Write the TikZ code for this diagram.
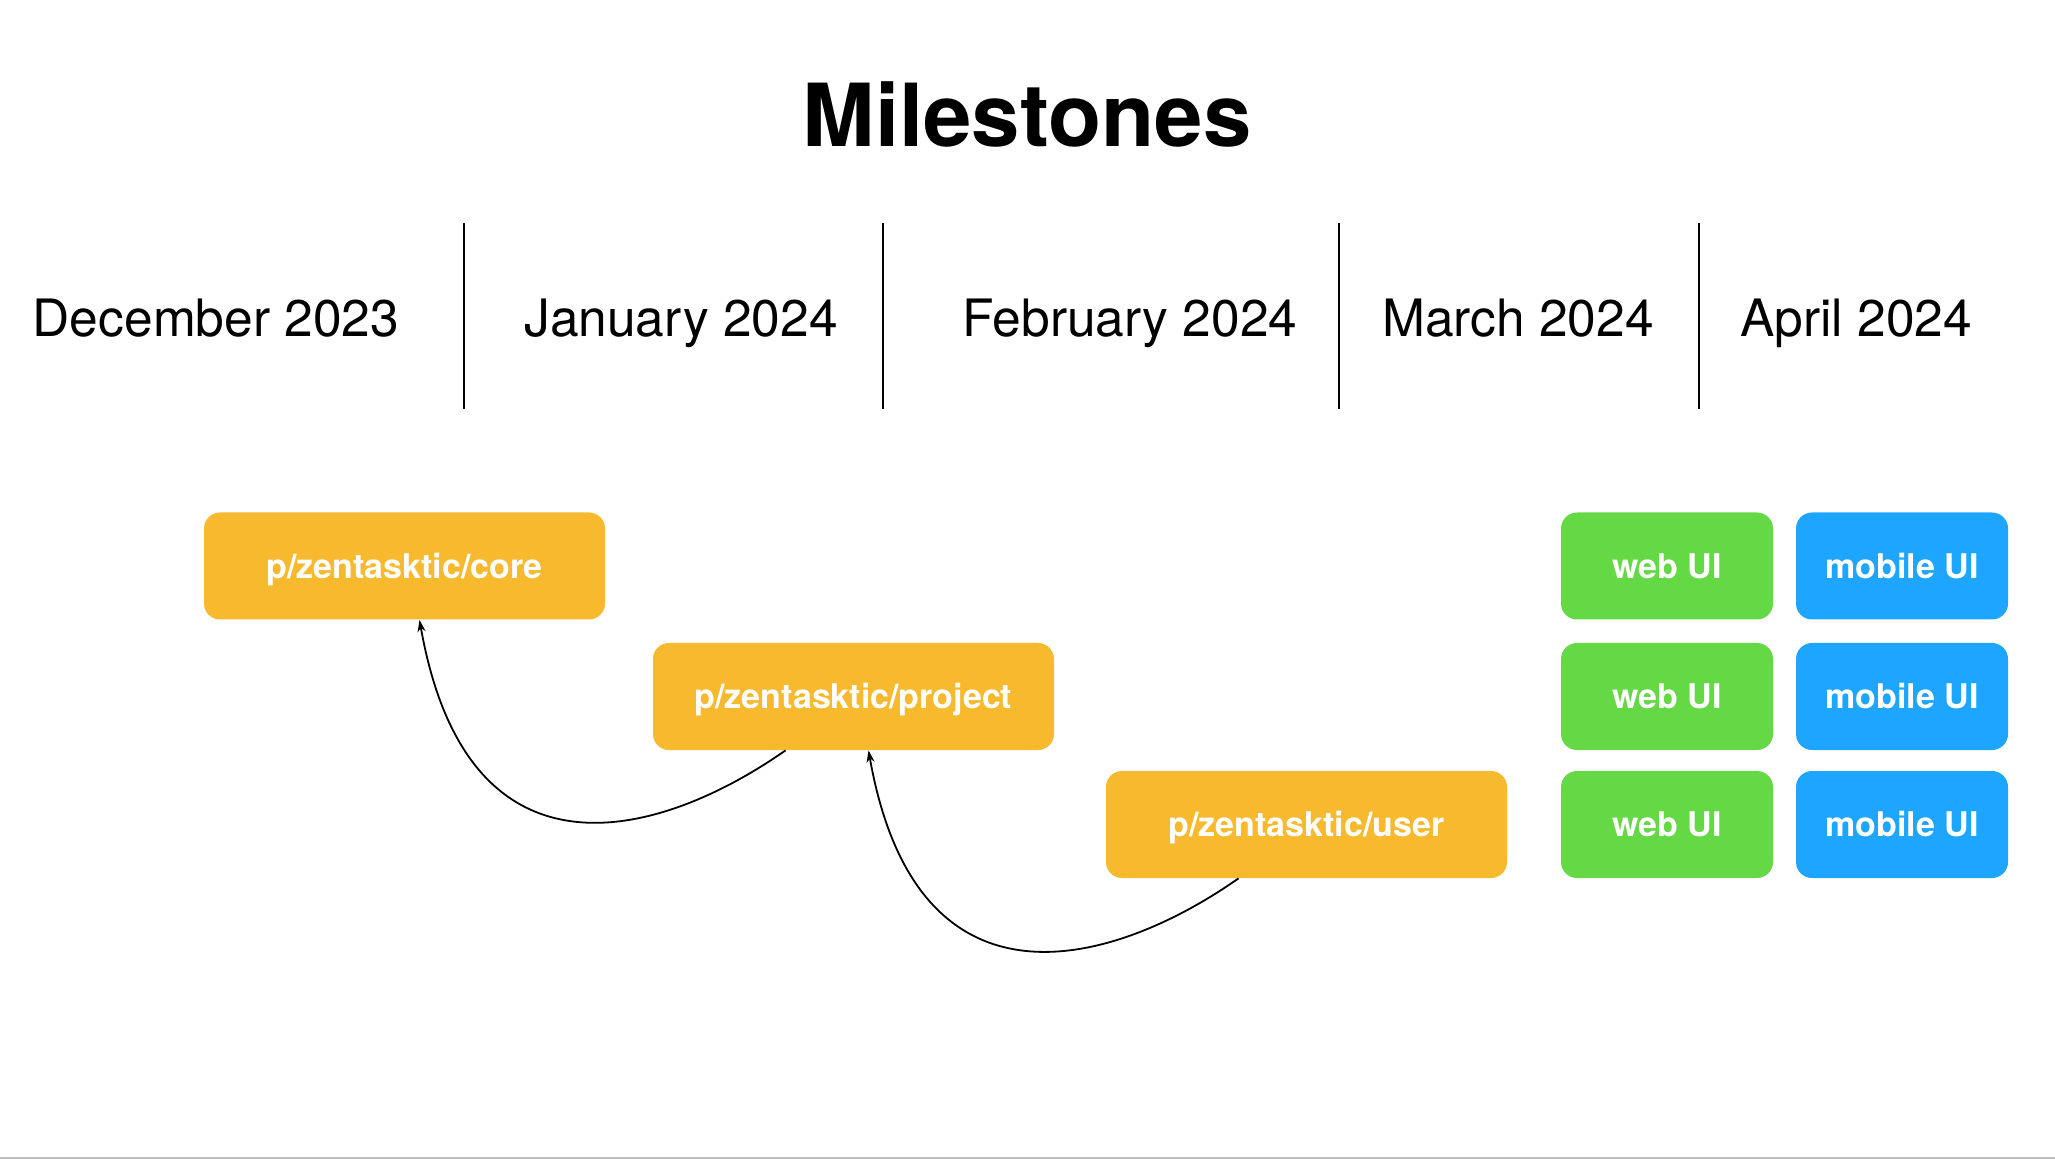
\documentclass[tikz,border=0pt]{standalone}
\usepackage{fontspec}
\setmainfont{TeX Gyre Heros}
\usepackage{xcolor}
\definecolor{myorange}{RGB}{247,185,46}
\definecolor{mygreen}{RGB}{101,216,70}
\definecolor{myblue}{RGB}{30,166,255}
\usepackage{tikz}
\usetikzlibrary{calc}
\usetikzlibrary{arrows.meta}

\begin{document}
\begin{tikzpicture}[x=0.5pt, y=-0.5pt,
    month/.style={anchor=base, font=\fontsize{25.75}{30}\selectfont},
    box/.style={fill=#1, rounded corners=8pt, text=white, inner sep=0pt,
      font=\bfseries\fontsize{17}{20}\selectfont,
      text height=12.2pt, text depth=0pt, minimum height=53.5pt},
    pkg/.style={box=myorange, minimum width=200.5pt},
    ui/.style={box=#1, minimum width=106pt},
    dep/.style={-{Stealth[length=6pt, width=4pt]}, line width=0.9pt}]
      \useasboundingbox (0,0) rectangle (2055,1159);

      \node[anchor=base, font=\bfseries\fontsize{43.5}{50}\selectfont] (title) at (1027,147) {Milestones};

      % months
      \node[month] (dec) at (216,337) {December 2023};
      \node[month] (jan) at (681,337) {January 2024};
      \node[month] (feb) at (1130,337) {February 2024};
      \node[month] (mar) at (1518,337) {March 2024};
      \node[month] (apr) at (1856,337) {April 2024};
      \foreach \x in {464,883,1339,1699}
        \draw[line width=1pt] (\x,223) -- (\x,409);

      % packages
      \node[pkg] (core) at (404.5,566) {p/zentasktic/core};
      \node[pkg] (proj) at (853.5,696.5) {p/zentasktic/project};
      \node[pkg] (user) at (1306.5,824.5) {p/zentasktic/user};

      % interfaces
      \foreach \r/\y in {1/566,2/696.5,3/824.5} {
        \node[ui=mygreen] (web\r) at (1667,\y) {web UI};
        \node[ui=myblue] (mob\r) at (1902,\y) {mobile UI};
      }

      \draw[dep] ($(proj.south)+(-68,0)$) .. controls +(145:150) and +(80:280) .. ($(core.south)+(15,0)$);
      \draw[dep] ($(user.south)+(-68,0)$) .. controls +(145:150) and +(80:280) .. ($(proj.south)+(15,0)$);

      \draw[black!25, line width=1pt] (0,1157.5) -- (2055,1157.5);
    \end{tikzpicture}
\end{document}
